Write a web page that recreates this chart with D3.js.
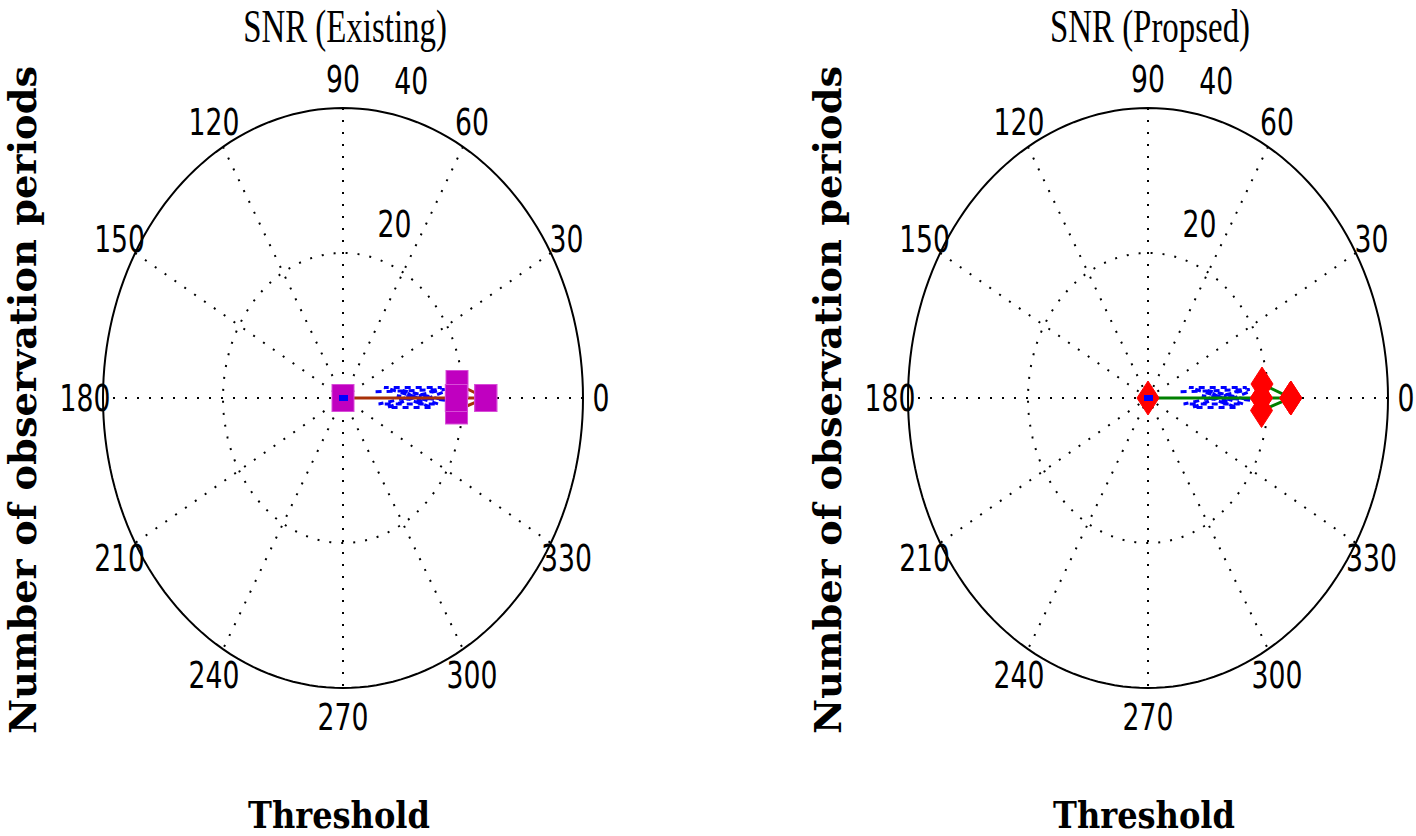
<!DOCTYPE html>
<html>
<head>
<meta charset="utf-8">
<script src="https://cdn.jsdelivr.net/npm/d3@7"></script>
<style>
  body { margin: 0; background: #fff; }
  svg { display: block; }
</style>
</head>
<body>
<svg id="chart"></svg>
<script>
const width = 1416;
const height = 836;

// polar axis setup
const rMax = 40;
const ringTicks = [20, 40];
const spokeAngles = [0, 30, 60, 90, 120, 150];
const angleLabels = [0, 30, 60, 90, 120, 150, 180, 210, 240, 270, 300, 330];

const titles = ["SNR (Existing)", "SNR (Propsed)"];
const xLabel = "Threshold";
const yLabel = "Number of observation periods";

// main series (line + markers), angle in degrees, radius
const mainTheta = [0, 0, 5.8, 0, -5.2, 0, 0];
const mainRho = [0, 18.9, 19.1, 23.8, 19.0, 18.9, 23.8];

// blue dashed trace
const blueTheta = [9, 4, -8, -3, 12, 5, -10, -5, 2, -1, 6, -2, 3];
const blueRho = [5.5, 17, 6, 16, 7, 16.5, 7.5, 15, 9, 17, 10, 13, 17];
const blueDotTheta = [0];
const blueDotRho = [0];

const panels = [
  { cx: 343, title: titles[0], marker: "square", fill: "#c000c0", edge: "#d84cd8", line: "#a83008" },
  { cx: 1148, title: titles[1], marker: "diamond", fill: "#ff0000", edge: "#ff0000", line: "#008000" }
];
const cy = 398;
const rx = 240, ry = 290;

const svg = d3.select("#chart")
  .attr("width", width)
  .attr("height", height);

function narrowText(g, x, y, txt, opts) {
  const t = g.append("g").attr("transform", `translate(${x},${y}) scale(${opts.sx},1)`);
  t.append("text")
    .attr("text-anchor", opts.anchor || "middle")
    .attr("dominant-baseline", opts.baseline || "auto")
    .attr("font-family", opts.family)
    .attr("font-size", opts.size)
    .attr("font-weight", opts.weight || "normal")
    .attr("fill", "#000")
    .text(txt);
}

const tickFont = "'Liberation Sans Narrow', 'DejaVu Sans Condensed', sans-serif";
const serif = "'Liberation Serif', 'Times New Roman', serif";
const slab = "'DejaVu Serif', 'Liberation Serif', serif";

panels.forEach(p => {
  const g = svg.append("g");
  const xScale = d3.scaleLinear().domain([-rMax, rMax]).range([p.cx - rx, p.cx + rx]);
  const yScale = d3.scaleLinear().domain([-rMax, rMax]).range([cy + ry, cy - ry]);
  const rad = d => d * Math.PI / 180;
  const px = (th, r) => xScale(r * Math.cos(rad(th)));
  const py = (th, r) => yScale(r * Math.sin(rad(th)));

  const circle = d3.range(0, 361, 2);
  const ringLine = r => d3.line().x(a => px(a, r)).y(a => py(a, r))(circle);

  // inner rings dotted, outer solid
  ringTicks.forEach(r => {
    g.append("path")
      .attr("d", ringLine(r))
      .attr("fill", "none")
      .attr("stroke", "#000")
      .attr("stroke-width", 2)
      .attr("stroke-dasharray", r === rMax ? null : "2 10");
  });

  // spokes
  spokeAngles.forEach(a => {
    g.append("line")
      .attr("x1", px(a, rMax)).attr("y1", py(a, rMax))
      .attr("x2", px(a + 180, rMax)).attr("y2", py(a + 180, rMax))
      .attr("stroke", "#000")
      .attr("stroke-width", 2)
      .attr("stroke-dasharray", "2 10");
  });

  // angle labels
  angleLabels.forEach(a => {
    const lx = xScale(rMax * 1.075 * Math.cos(rad(a)));
    const ly = yScale(rMax * 1.1 * Math.sin(rad(a)));
    narrowText(g, lx, ly, String(a),
      { sx: 0.78, family: tickFont, size: 38, baseline: "central" });
  });

  // ring labels
  ringTicks.forEach(r => {
    const rr = r + 1;
    narrowText(g, px(82, rr) + 17, py(82, rr) - 10, String(r),
      { sx: 0.78, family: tickFont, size: 38, anchor: "start" });
  });

  // blue dashed trace
  g.append("path")
    .attr("d", d3.line().x((d, i) => px(blueTheta[i], blueRho[i])).y((d, i) => py(blueTheta[i], blueRho[i]))(blueRho))
    .attr("fill", "none")
    .attr("stroke", "#0000ff")
    .attr("stroke-width", 3)
    .attr("stroke-dasharray", "6 5");

  // main line
  g.append("path")
    .attr("d", d3.line().x((d, i) => px(mainTheta[i], mainRho[i])).y((d, i) => py(mainTheta[i], mainRho[i]))(mainRho))
    .attr("fill", "none")
    .attr("stroke", p.line)
    .attr("stroke-width", 3);

  // markers
  mainRho.forEach((r, i) => {
    const x = px(mainTheta[i], r), y = py(mainTheta[i], r);
    if (p.marker === "square") {
      g.append("rect")
        .attr("x", x - 11).attr("y", y - 13.5)
        .attr("width", 22).attr("height", 27)
        .attr("fill", p.fill)
        .attr("stroke", p.edge)
        .attr("stroke-width", 1);
    } else {
      g.append("path")
        .attr("d", `M${x},${y - 17}L${x + 11},${y}L${x},${y + 17}L${x - 11},${y}Z`)
        .attr("fill", p.fill)
        .attr("stroke", p.edge);
    }
  });

  // blue dot at center
  blueDotRho.forEach((r, i) => {
    g.append("rect")
      .attr("x", px(blueDotTheta[i], r) - 4)
      .attr("y", py(blueDotTheta[i], r) - 3)
      .attr("width", 9).attr("height", 6)
      .attr("fill", "#0000ff");
  });

  // title
  narrowText(g, p.cx + 2, 42, p.title, { sx: 0.7, family: serif, size: 47 });

  // x label
  g.append("text")
    .attr("x", p.cx - 4).attr("y", 828)
    .attr("text-anchor", "middle")
    .attr("font-family", slab)
    .attr("font-size", 37)
    .attr("font-weight", "bold")
    .attr("textLength", 182)
    .attr("lengthAdjust", "spacingAndGlyphs")
    .text(xLabel);

  // y label
  const yl = p.cx - 321;
  g.append("text")
    .attr("transform", `translate(${yl},400) rotate(-90)`)
    .attr("text-anchor", "middle")
    .attr("dominant-baseline", "central")
    .attr("font-family", slab)
    .attr("font-size", 38)
    .attr("font-weight", "bold")
    .attr("textLength", 668)
    .attr("lengthAdjust", "spacingAndGlyphs")
    .text(yLabel);
});
</script>
</body>
</html>
